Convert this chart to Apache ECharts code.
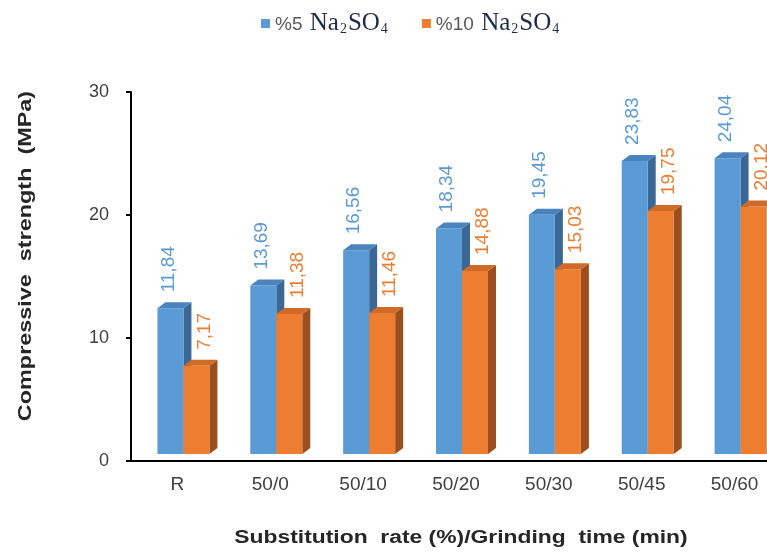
<!DOCTYPE html>
<html>
<head>
<meta charset="utf-8">
<script src="https://cdn.jsdelivr.net/npm/echarts@6/dist/echarts.min.js"></script>
<style>
  html, body { margin: 0; padding: 0; background: #fff; overflow: hidden; }
  /* the drawing surface is a little wider than the window, so the last column is clipped */
  #chart { width: 781px; height: 553px; }
</style>
</head>
<body>
<div id="chart"></div>
<script>
// Compressive strength of mortars exposed to sodium sulfate
const categories = ['R', '50/0', '50/10', '50/20', '50/30', '50/45', '50/60'];
const na5 = [11.84, 13.69, 16.56, 18.34, 19.45, 23.83, 24.04];
const na10 = [7.17, 11.38, 11.46, 14.88, 15.03, 19.75, 20.12];
const yTicks = { min: 0, max: 30, interval: 10 };

// pseudo-3D column: side face, front face, top face, plus rotated value label
const DEPTH_X = 8, DEPTH_Y = -6, LIFT = -7, BAR_W = 26;

function makeBar(offsetLeft, labelShift, colors) {
  return function (params, api) {
    const idx = api.value(0);
    const v = api.value(1);
    const base = api.coord([idx, 0]);
    const top = api.coord([idx, v]);
    const L = base[0] + offsetLeft;
    const R = L + BAR_W;
    const B = base[1] + LIFT;
    const T = top[1] + LIFT;
    const label = v.toFixed(2).replace('.', ',');
    return {
      type: 'group',
      children: [
        { type: 'polygon', shape: { points: [[R, T], [R + DEPTH_X, T + DEPTH_Y], [R + DEPTH_X, B + DEPTH_Y], [R, B]] },
          style: { fill: colors.side } },
        { type: 'rect', shape: { x: L, y: T, width: BAR_W, height: B - T },
          style: { fill: colors.front } },
        { type: 'polygon', shape: { points: [[L, T], [R, T], [R + DEPTH_X, T + DEPTH_Y], [L + DEPTH_X, T + DEPTH_Y]] },
          style: { fill: colors.top } },
        { type: 'text', x: (L + R) / 2 + labelShift, y: T - 16, rotation: Math.PI / 2,
          style: { text: label, fill: colors.label, font: '19px "Liberation Sans", Arial, sans-serif',
                   align: 'left', verticalAlign: 'middle' } }
      ]
    };
  };
}

const blue = { front: '#5B9BD5', top: '#4A84BF', side: '#3A6794', label: '#5B9BD5' };
const orange = { front: '#ED7D31', top: '#CF6A27', side: '#9C4E1C', label: '#ED7D31' };

const legendRich = {
  p: { fontFamily: '"Liberation Sans", Arial, sans-serif', fontSize: 19, color: '#595959', verticalAlign: 'bottom', padding: [0, 2, 2, 0] },
  n: { fontFamily: '"Liberation Serif", "Times New Roman", serif', fontSize: 25, color: '#1E2A4A', verticalAlign: 'bottom' },
  s: { fontFamily: '"Liberation Serif", "Times New Roman", serif', fontSize: 14, color: '#1E2A4A', verticalAlign: 'bottom', padding: [0, 1, 0, 1] }
};

const chart = echarts.init(document.getElementById('chart'), null, { renderer: 'canvas' });
chart.setOption({
  animation: false,
  backgroundColor: '#ffffff',
  legend: {
    top: 6,
    left: 256,
    itemWidth: 9,
    itemHeight: 9,
    itemGap: 34,
    icon: 'rect',
    data: [
      { name: '%5 Na2SO4', itemStyle: { color: blue.front } },
      { name: '%10 Na2SO4', itemStyle: { color: orange.front } }
    ],
    formatter: function (name) {
      const pct = name.split(' ')[0];
      return '{p|' + pct + ' }{n|Na}{s|2}{n|SO}{s|4}';
    },
    textStyle: { rich: legendRich }
  },
  grid: { left: 131, right: 0, top: 92, bottom: 92, containLabel: false },
  xAxis: {
    type: 'category',
    data: categories,
    axisLine: { lineStyle: { color: '#000', width: 2 } },
    axisTick: { alignWithLabel: true, length: 4, lineStyle: { color: '#000', width: 2 } },
    axisLabel: { margin: 14, fontSize: 19, color: '#404040', fontFamily: '"Liberation Sans", Arial, sans-serif' }
  },
  yAxis: {
    type: 'value',
    min: yTicks.min,
    max: yTicks.max,
    interval: yTicks.interval,
    axisLine: { show: true, lineStyle: { color: '#000', width: 2 } },
    axisTick: { show: true, length: 5, lineStyle: { color: '#000', width: 2 } },
    splitLine: { show: false },
    axisLabel: { margin: 22, fontSize: 18, color: '#404040', fontFamily: '"Liberation Sans", Arial, sans-serif' }
  },
  graphic: [
    { type: 'text', x: 461, y: 538, scaleX: 1.27,
      style: { text: 'Substitution  rate (%)/Grinding  time (min)', fill: '#262626',
               font: 'bold 18px "Liberation Sans", Arial, sans-serif', align: 'center', verticalAlign: 'middle' } },
    { type: 'text', x: 26, y: 256, rotation: Math.PI / 2, scaleX: 1.3,
      style: { text: 'Compressive  strength  (MPa)', fill: '#262626',
               font: 'bold 18px "Liberation Sans", Arial, sans-serif', align: 'center', verticalAlign: 'middle' } }
  ],
  series: [
    { name: '%5 Na2SO4', type: 'custom', renderItem: makeBar(-20, -2, blue),
      data: na5.map((v, i) => [i, v]), itemStyle: { color: blue.front }, z: 2 },
    { name: '%10 Na2SO4', type: 'custom', renderItem: makeBar(6, 8, orange),
      data: na10.map((v, i) => [i, v]), itemStyle: { color: orange.front }, z: 3 }
  ]
});
</script>
</body>
</html>
